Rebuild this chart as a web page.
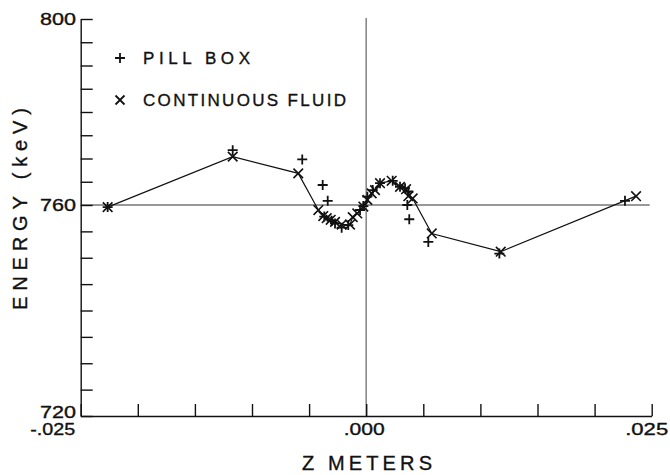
<!DOCTYPE html>
<html lang="en">
  <head>
    <meta charset="UTF-8" />
    <title>Energy vs Z</title>
    <script src="https://d3js.org/d3.v7.min.js"></script>
    <style>
      body {
        margin: 0;
        background: #ffffff;
      }
      svg text {
        font-family: 'Liberation Sans', Arial, sans-serif;
        fill: #111;
        stroke: #111;
        stroke-width: 0.35px;
      }
    </style>
  </head>
  <body>
    <div id="chart"></div>
    <script>
      // pill box cavity results (z in metres, energy in keV)
      const pillZ = [
        -0.02264, -0.01169, -0.0056, -0.00381, -0.00337, -0.00367, -0.00302,
        -0.00273, -0.00215, -0.00157, -0.00054, -0.00025, 0.0001, 0.00057,
        0.00121, 0.00232, 0.00296, 0.0034, 0.00369, 0.0036, 0.00377, 0.00544,
        0.01166, 0.02266,
      ];
      const pillE = [
        759.6, 771.8, 769.8, 764.3, 760.9, 757.8, 757.0, 756.5, 755.7, 756.2,
        759.05, 759.8, 761.8, 763.2, 764.7, 765.2, 763.9, 763.6, 762.9, 760.0,
        757.3, 753.0, 750.8, 760.9,
      ];

      // continuous fluid results, joined by a line
      const fluidZ = [
        -0.02264, -0.01169, -0.00595, -0.00419, -0.00376, -0.00346, -0.00311,
        -0.00273, -0.00215, -0.00142, -0.00118, -0.00078, -0.00025, 0.0001,
        0.00048, 0.00077, 0.00121, 0.00223, 0.00296, 0.00349, 0.00369,
        0.00407, 0.00574, 0.01178, 0.02363,
      ];
      const fluidE = [
        759.6, 770.4, 766.8, 759.05, 757.9, 757.5, 757.2, 756.8, 756.3, 756.3,
        757.7, 758.4, 759.7, 761.1, 762.5, 763.2, 764.7, 765.2, 763.9, 763.4,
        761.9, 761.4, 754.6, 751.15, 761.9,
      ];

      const xTicks = d3.range(-0.025, 0.0251, 0.005);
      const yTicks = d3.range(720, 801, 5);
      const xLabels = [
        { v: -0.025, t: '-.025' },
        { v: 0, t: '.000' },
        { v: 0.025, t: '.025' },
      ];
      const yLabels = [720, 760, 800];
      const refEnergy = 760;

      const W = 670,
        H = 475;
      const svg = d3
        .select('#chart')
        .append('svg')
        .attr('width', W)
        .attr('height', H);

      const x = d3
        .scaleLinear()
        .domain([-0.025, 0.025])
        .range([80.7, 651.7]);
      // the scanned axis is not quite uniform around the 760 line
      const y = d3
        .scaleLinear()
        .domain([720, 760, 800])
        .range([416, 205, 19]);

      // reference lines
      svg
        .append('line')
        .attr('x1', x(0))
        .attr('x2', x(0))
        .attr('y1', y(800) - 1)
        .attr('y2', y(720))
        .attr('stroke', '#8a8a8a')
        .attr('stroke-width', 1.6);
      svg
        .append('line')
        .attr('x1', x(-0.025))
        .attr('x2', x(0.025) - 2)
        .attr('y1', y(refEnergy))
        .attr('y2', y(refEnergy))
        .attr('stroke', '#333')
        .attr('stroke-width', 1.1);

      // axes
      const yAxis = svg
        .append('g')
        .attr('transform', `translate(${x(-0.025)},0)`)
        .call(
          d3
            .axisRight(y)
            .tickValues(yTicks)
            .tickSize(12)
            .tickSizeOuter(0)
            .tickFormat(''),
        );
      const xAxis = svg
        .append('g')
        .attr('transform', `translate(0,${y(720)})`)
        .call(
          d3
            .axisTop(x)
            .tickValues(xTicks)
            .tickSize(12)
            .tickSizeOuter(0)
            .tickFormat(''),
        );
      [yAxis, xAxis].forEach((g) => {
        g.selectAll('path, line')
          .attr('stroke', '#111')
          .attr('stroke-width', 1.4);
      });

      // tick labels
      const xLabW = { '-.025': 45, '.000': 41, '.025': 43 };
      const xLabC = { '-.025': -28, '.000': -2, '.025': -5 };
      svg
        .selectAll('.xlab')
        .data(xLabels)
        .join('text')
        .attr('class', 'xlab')
        .attr('x', (d) => x(d.v) + xLabC[d.t])
        .attr('y', 435)
        .attr('text-anchor', 'middle')
        .attr('font-size', 17)
        .attr('textLength', (d) => xLabW[d.t])
        .attr('lengthAdjust', 'spacingAndGlyphs')
        .text((d) => d.t);
      const yLabDy = { 720: 1.5, 760: 6, 800: 5.5 };
      svg
        .selectAll('.ylab')
        .data(yLabels)
        .join('text')
        .attr('class', 'ylab')
        .attr('x', 76)
        .attr('y', (d) => y(d) + yLabDy[d])
        .attr('text-anchor', 'end')
        .attr('font-size', 17)
        .attr('textLength', 36)
        .attr('lengthAdjust', 'spacingAndGlyphs')
        .text((d) => d);

      // axis titles
      svg
        .append('text')
        .attr('x', 367)
        .attr('y', 470)
        .attr('text-anchor', 'middle')
        .attr('font-size', 20)
        .attr('textLength', 130)
        .attr('lengthAdjust', 'spacing')
        .text('Z  METERS');
      svg
        .append('text')
        .attr('transform', 'translate(27,209) rotate(-90)')
        .attr('text-anchor', 'middle')
        .attr('font-size', 20)
        .attr('textLength', 202)
        .attr('lengthAdjust', 'spacing')
        .text('ENERGY  (keV)');

      // markers
      const plus = (s) => `M${-s},0H${s}M0,${-s}V${s}`;
      const cross = (s) => `M${-s},${-s}L${s},${s}M${-s},${s}L${s},${-s}`;

      const fluid = fluidZ.map((z, i) => [z, fluidE[i]]);
      const pill = pillZ.map((z, i) => [z, pillE[i]]);

      svg
        .append('path')
        .datum(fluid)
        .attr(
          'd',
          d3
            .line()
            .x((d) => x(d[0]))
            .y((d) => y(d[1])),
        )
        .attr('fill', 'none')
        .attr('stroke', '#111')
        .attr('stroke-width', 1.2);

      svg
        .selectAll('.fluid')
        .data(fluid)
        .join('path')
        .attr('class', 'fluid')
        .attr('transform', (d) => `translate(${x(d[0])},${y(d[1])})`)
        .attr('d', cross(4.8))
        .attr('stroke', '#111')
        .attr('stroke-width', 1.6)
        .attr('fill', 'none');

      svg
        .selectAll('.pill')
        .data(pill)
        .join('path')
        .attr('class', 'pill')
        .attr('transform', (d) => `translate(${x(d[0])},${y(d[1])})`)
        .attr('d', plus(5))
        .attr('stroke', '#111')
        .attr('stroke-width', 1.8)
        .attr('fill', 'none');

      // legend
      const legend = [
        { sym: plus(5), label: 'PILL BOX', len: 107, yy: 58 },
        { sym: cross(4.5), label: 'CONTINUOUS FLUID', len: 203, yy: 100 },
      ];
      legend.forEach((d) => {
        svg
          .append('path')
          .attr('transform', `translate(120,${d.yy})`)
          .attr('d', d.sym)
          .attr('stroke', '#111')
          .attr('stroke-width', 1.8)
          .attr('fill', 'none');
        svg
          .append('text')
          .attr('x', 143)
          .attr('y', d.yy + 6)
          .attr('font-size', 17)
          .attr('textLength', d.len)
          .attr('lengthAdjust', 'spacing')
          .text(d.label);
      });
    </script>
  </body>
</html>
